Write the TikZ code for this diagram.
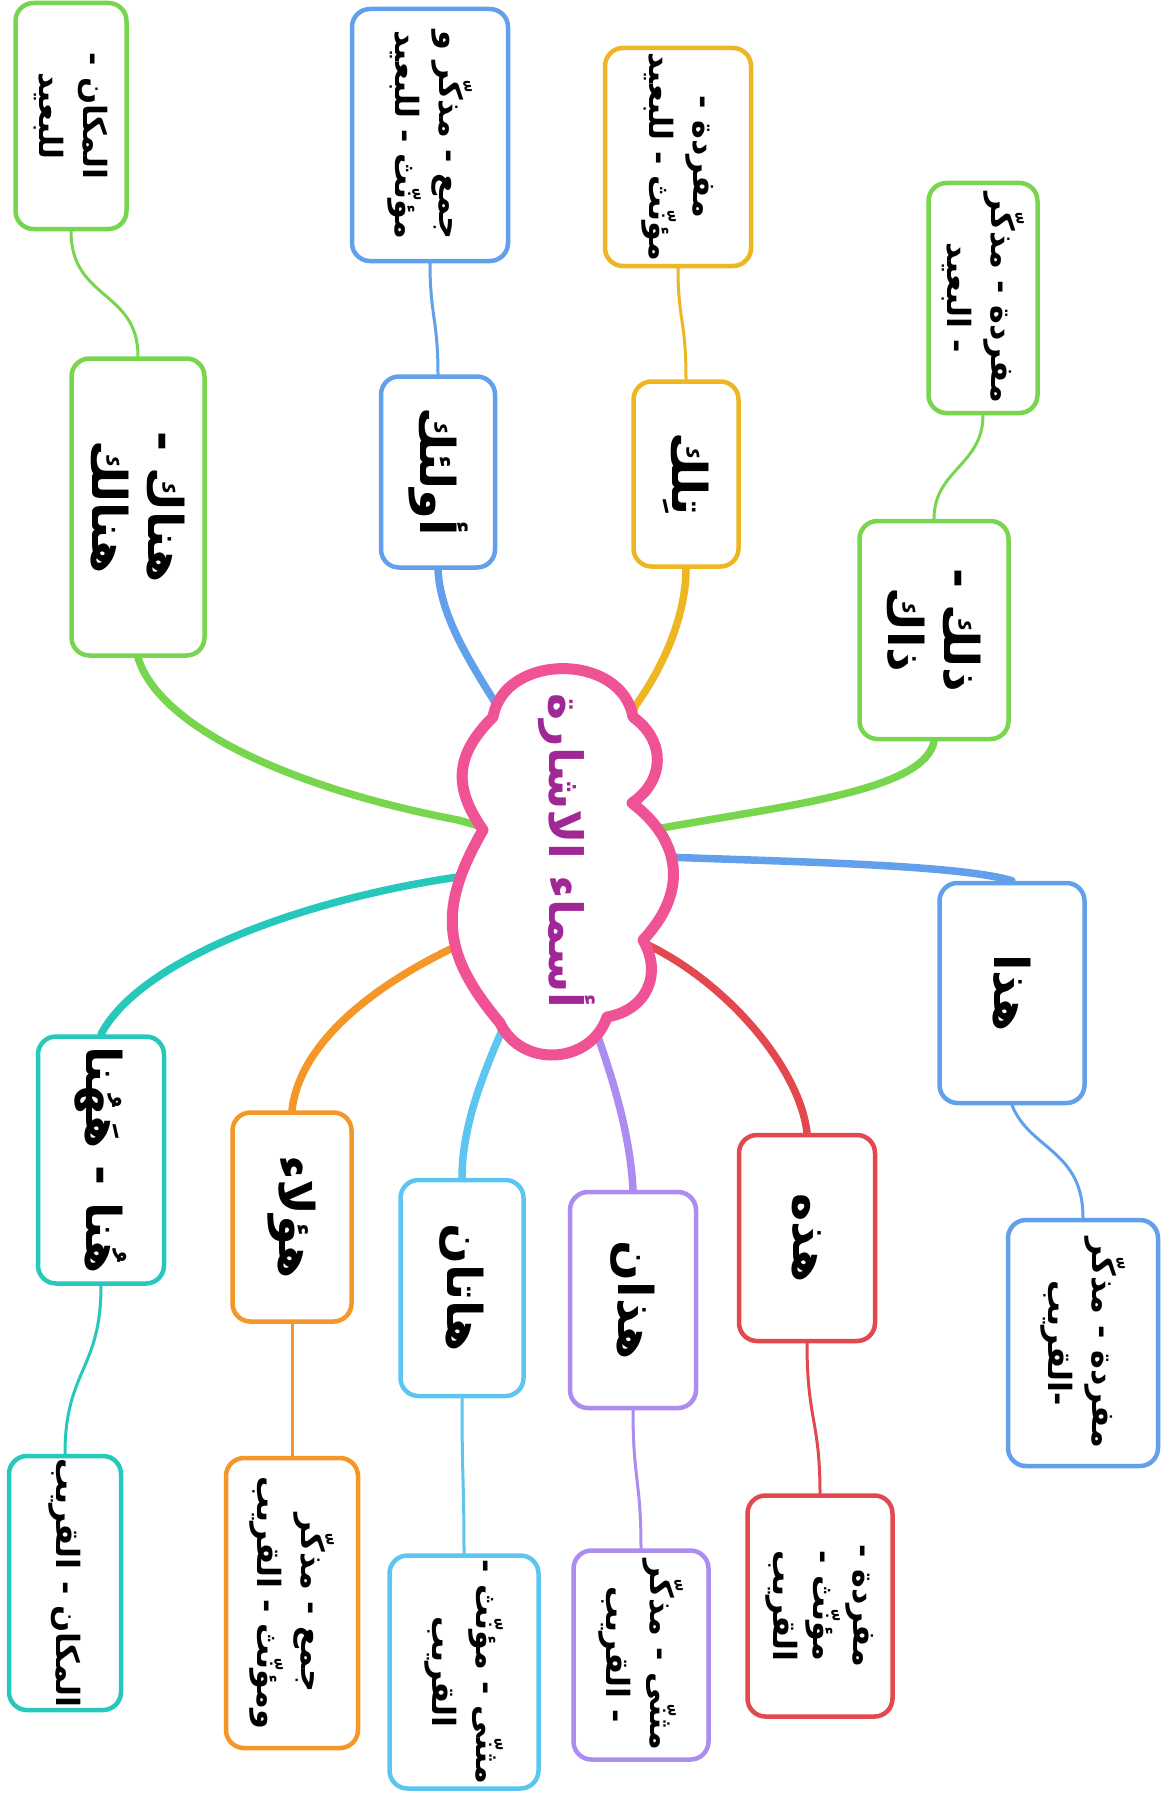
\documentclass[tikz,border=0pt]{standalone}
\usepackage{fontspec}
\usetikzlibrary{backgrounds}
\TeXXeTstate=1
\newfontfamily\arabicfont[Script=Arabic]{DejaVu Sans}
\definecolor{cgreen}{RGB}{120,214,78}
\definecolor{cblue}{RGB}{98,160,236}
\definecolor{cyellow}{RGB}{238,182,34}
\definecolor{corange}{RGB}{244,150,40}
\definecolor{cred}{RGB}{226,72,78}
\definecolor{cpurple}{RGB}{172,140,240}
\definecolor{clight}{RGB}{92,198,240}
\definecolor{cteal}{RGB}{38,200,188}
\definecolor{cpink}{RGB}{240,82,150}
\definecolor{ctext}{RGB}{160,40,150}
\newcommand{\RL}[1]{\beginR #1\endR}
\begin{document}
\begin{tikzpicture}[x=1pt,y=1pt,
  box/.style={draw, line width=4.5, rounded corners=18, fill=white, rotate=-90, align=center, inner sep=0,
    font=\arabicfont\bfseries\fontsize{48}{56}\selectfont},
  subbox/.style={box, font=\arabicfont\bfseries\fontsize{32}{44}\selectfont},
  mainline/.style={line width=7.5, line cap=round},
  subline/.style={line width=3, line cap=round},
  puff/.style={bend left=#1, looseness=1.2}]
\useasboundingbox (0,0) rectangle (1168,-1798);

% cloud outline points
\coordinate (p1) at (493,-717);
\coordinate (p2) at (633,-717);
\coordinate (p3) at (632,-803);
\coordinate (p4) at (643,-940);
\coordinate (p5) at (607,-1017);
\coordinate (p6) at (500,-1023);
\coordinate (p7) at (483,-830);
\draw[cpink, line width=11, fill=white, line join=round]
  (p1) to[puff=80] (p2) to[puff=55] (p3) to[puff=48] (p4) to[puff=55] (p5)
  to[puff=68] (p6) to[puff=35] (p7) to[puff=40] (p1) -- cycle;

% central text
\node[rotate=-90, inner sep=0, text=ctext, font=\arabicfont\bfseries\fontsize{46}{52}\selectfont]
  (cl) at (567,-851) {\RL{أسماء الاشارة}};

% main boxes
\node[box, draw=cgreen, minimum width=218, minimum height=149] (b1) at (934,-630) {\RL{ذلك -}\\\RL{ذاك}};
\node[box, draw=cyellow, minimum width=185, minimum height=105] (b2) at (686,-474) {\RL{تِلك}};
\node[box, draw=cblue, minimum width=191, minimum height=114] (b3) at (438,-472) {\RL{أولئك}};
\node[box, draw=cgreen, minimum width=297, minimum height=133] (b4) at (138,-507) {\RL{هناك -}\\\RL{هنالك}};
\node[box, draw=cblue, minimum width=220, minimum height=145] (b5) at (1012,-993) {\RL{هذا}};
\node[box, draw=cred, minimum width=206, minimum height=136] (b6) at (807,-1238) {\RL{هذه}};
\node[box, draw=cpurple, minimum width=216, minimum height=126] (b7) at (633,-1300) {\RL{هذان}};
\node[box, draw=clight, minimum width=216, minimum height=123] (b8) at (462,-1288) {\RL{هاتان}};
\node[box, draw=corange, minimum width=209, minimum height=119] (b9) at (292,-1217) {\RL{هؤلاء}};
\node[box, draw=cteal, minimum width=247, minimum height=126] (b10) at (101,-1160) {\RL{هُنا - هَهُنا}};

% sub boxes
\node[subbox, draw=cgreen, minimum width=230, minimum height=109] (s1) at (983,-298) {\RL{مفردة - مذكّر}\\\RL{- البعيد}};
\node[subbox, draw=cyellow, minimum width=218, minimum height=146] (s2) at (678,-157) {\RL{مفردة -}\\\RL{مؤنّث - للبعيد}};
\node[subbox, draw=cblue, minimum width=252, minimum height=156] (s3) at (430,-135) {\RL{جمع - مذكّر و}\\\RL{مؤنّث - للبعيد}};
\node[subbox, draw=cgreen, minimum width=226, minimum height=111] (s4) at (71,-116) {\RL{المكان -}\\\RL{للبعيد}};
\node[subbox, draw=cblue, minimum width=246, minimum height=150] (s5) at (1083,-1343) {\RL{مفردة - مذكّر}\\\RL{-القريب}};
\node[subbox, draw=cred, minimum width=221, minimum height=145, font=\arabicfont\bfseries\fontsize{32}{40}\selectfont] (s6) at (820,-1606) {\RL{مفردة -}\\\RL{مؤنّث -}\\\RL{القريب}};
\node[subbox, draw=cpurple, minimum width=209, minimum height=135] (s7) at (641,-1655) {\RL{مثنّى - مذكّر}\\\RL{- القريب}};
\node[subbox, draw=clight, minimum width=233, minimum height=149] (s8) at (464,-1672) {\RL{مثنّى - مؤنّث -}\\\RL{القريب}};
\node[subbox, draw=corange, minimum width=290, minimum height=132] (s9) at (292,-1603) {\RL{جمع - مذكّر}\\\RL{ومؤنّث - القريب}};
\node[subbox, draw=cteal, minimum width=254, minimum height=112] (s10) at (65,-1583) {\RL{المكان - القريب}};

% exit points on the cloud
\coordinate (e1) at (662,-828);
\coordinate (e5) at (665,-857);
\coordinate (e6) at (648,-945);
\coordinate (e7) at (590,-1014);
\coordinate (e8) at (504,-1026);
\coordinate (e9) at (470,-940);
\coordinate (e10) at (458,-877);
\coordinate (e4) at (458,-820);
\coordinate (e3) at (493,-699);
\coordinate (e2) at (636,-705);

\begin{scope}[on background layer]
\fill[white] (0,0) rectangle (1168,-1798);
\draw[mainline, cgreen] (cl.center) -- (e1) .. controls (790,-805) and (925,-790) .. (b1.east);
\draw[mainline, cblue] (cl.center) -- (e5) .. controls (800,-862) and (960,-865) .. (b5.west);
\draw[mainline, cred] (cl.center) -- (e6) .. controls (730,-985) and (800,-1070) .. (b6.west);
\draw[mainline, cpurple] (cl.center) -- (e7) .. controls (610,-1070) and (630,-1130) .. (b7.west);
\draw[mainline, clight] (cl.center) -- (e8) .. controls (480,-1080) and (462,-1130) .. (b8.west);
\draw[mainline, corange] (cl.center) -- (e9) .. controls (380,-980) and (300,-1040) .. (b9.west);
\draw[mainline, cteal] (cl.center) -- (e10) .. controls (300,-900) and (140,-960) .. (b10.west);
\draw[mainline, cgreen] (cl.center) -- (e4) .. controls (300,-790) and (160,-730) .. (b4.east);
\draw[mainline, cblue] (cl.center) -- (e3) .. controls (462,-650) and (440,-610) .. (b3.east);
\draw[mainline, cyellow] (cl.center) -- (e2) .. controls (668,-660) and (686,-610) .. (b2.east);

\draw[subline, cgreen] (b1.west) .. controls (934,-470) and (983,-465) .. (s1.east);
\draw[subline, cyellow] (b2.west) .. controls (686,-320) and (678,-320) .. (s2.east);
\draw[subline, cblue] (b3.west) .. controls (438,-320) and (430,-315) .. (s3.east);
\draw[subline, cgreen] (b4.west) .. controls (138,-290) and (71,-300) .. (s4.east);
\draw[subline, cblue] (b5.east) .. controls (1030,-1150) and (1083,-1150) .. (s5.west);
\draw[subline, cred] (b6.east) .. controls (807,-1420) and (820,-1420) .. (s6.west);
\draw[subline, cpurple] (b7.east) .. controls (633,-1480) and (641,-1480) .. (s7.west);
\draw[subline, clight] (b8.east) .. controls (462,-1480) and (464,-1480) .. (s8.west);
\draw[subline, corange] (b9.east) .. controls (292,-1390) and (292,-1390) .. (s9.west);
\draw[subline, cteal] (b10.east) .. controls (101,-1370) and (65,-1370) .. (s10.west);
\end{scope}
\end{tikzpicture}
\end{document}
